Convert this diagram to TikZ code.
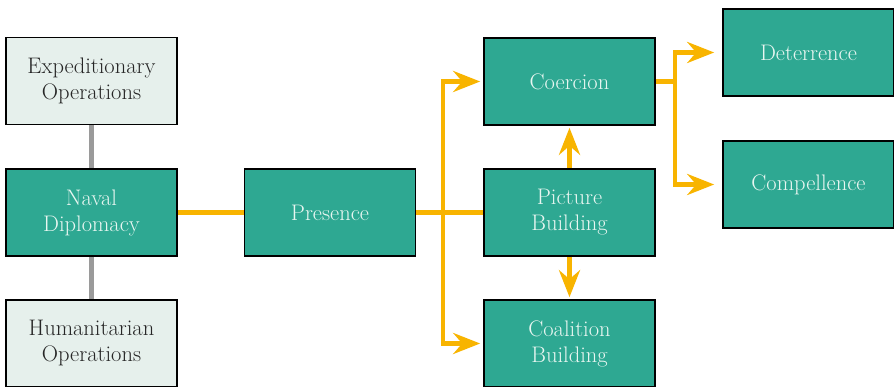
\documentclass[tikz,border=0pt]{standalone}
\usepackage{fontspec}
\usetikzlibrary{arrows.meta}
\definecolor{teal1}{HTML}{2EA892}
\definecolor{light1}{HTML}{E6F0EC}
\definecolor{orange1}{HTML}{F8B400}
\definecolor{grey1}{HTML}{9A9A9A}
\definecolor{txtlight}{HTML}{E8F6F1}
\begin{document}
\begin{tikzpicture}[x=1pt,y=-1pt,
  box/.style={draw=black,line width=1.6pt,minimum width=171pt,minimum height=87pt,
    align=center,font=\fontsize{22.5}{26}\selectfont,inner sep=0pt},
  tealbox/.style={box,fill=teal1,text=txtlight},
  lightbox/.style={box,fill=light1,text=black!85},
  oline/.style={draw=orange1,line width=4.5pt},
  oarrow/.style={oline,-{Stealth[length=27pt,width=21pt,inset=9pt]}},
  gline/.style={draw=grey1,line width=4.5pt}]
\useasboundingbox (0,0) rectangle (894,387);
\node[lightbox] (exp) at (91.5,81) {Expeditionary\\Operations};
\node[tealbox] (nav) at (91.5,212.5) {Naval\\Diplomacy};
\node[lightbox] (hum) at (91.5,343.5) {Humanitarian\\Operations};
\node[tealbox] (pre) at (330,212.5) {Presence};
\node[tealbox] (coe) at (569.5,81.5) {Coercion};
\node[tealbox] (pic) at (569.5,212.5) {Picture\\Building};
\node[tealbox] (coa) at (569.5,343.5) {Coalition\\Building};
\node[tealbox] (det) at (808.5,52.5) {Deterrence};
\node[tealbox] (com) at (808.5,184.5) {Compellence};
\draw[gline] (exp.south) -- (nav.north);
\draw[gline] (nav.south) -- (hum.north);
\draw[oline] (nav.east) -- (pre.west);
\draw[oline] (pre.east) -- (pic.west);
\coordinate (j) at (443,212.5);
\draw[oarrow,shorten >=3pt] (j) |- (coe.west);
\draw[oarrow,shorten >=3pt] (j) |- (coa.west);
\draw[oarrow,shorten >=2pt] (pic.north) -- (coe.south);
\draw[oarrow,shorten >=2pt] (pic.south) -- (coa.north);
\coordinate (k) at (675,81.5);
\draw[oline] (coe.east) -- (k);
\draw[oarrow,shorten >=8pt] (k) |- (det.west);
\draw[oarrow,shorten >=8pt] (k) |- (com.west);
\end{tikzpicture}
\end{document}
